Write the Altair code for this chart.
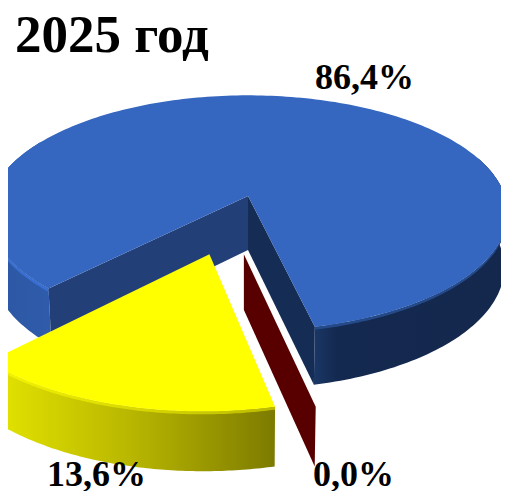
import numpy as np
import altair as alt

title_text = "2025 год"
labels = ["86,4%", "13,6%", "0,0%"]
shares = [86.4, 13.6, 0.0]

CX, R, A, B, C = 240.0, 257.0, 88.0, 188.0, -0.145
D0, D1 = 54.0, 4.0
START = 12.9
STRETCH = 1.163
Y_OFF = (-0.14, 0.47)
M_OFF = (-0.015, 0.47)

sweep_y = shares[1] * 3.6 * STRETCH
LEFT_CUT = START - sweep_y


def proj(u, v, d=0.0):
    den = 1 + C * v
    return [CX + R * u / den * (1 - d * 0.00025), (A * v + B) / den + d]


def rim(t0, t1, off=(0, 0), f=0.0, n=90):
    ts = np.radians(np.linspace(t0, t1, n))
    out = []
    for t in ts:
        u, v = off[0] + np.sin(t), off[1] + np.cos(t)
        out.append(proj(u, v, f * (D0 + D1 * v) if f <= 1 else f))
    return out


def poly(pts):
    pts = list(pts) + [pts[0]]
    return alt.Data(values=[{"type": "Feature", "properties": {},
                             "geometry": {"type": "Polygon", "coordinates": [pts]}}])


def hgrad(stops):
    return alt.Gradient(gradient="linear", x1=0, x2=1, y1=0, y2=0,
                        stops=[alt.GradientStop(offset=o, color=c) for o, c in stops])


def shape(pts, fill):
    return alt.Chart(poly(pts)).mark_geoshape(fill=fill, strokeWidth=0, stroke="transparent", opacity=1)


def wall(t0, t1, off, fill, f=1.0):
    return shape(rim(t0, t1, off) + rim(t1, t0, off, f), fill)


def radial(t, off, fill):
    a = proj(off[0], off[1])
    b = proj(off[0], off[1], D0 + D1 * off[1])
    return shape([a, rim(t, t, off, 0, 2)[0], rim(t, t, off, 1.0, 2)[0], b], fill)


layers = [
    wall(-120, LEFT_CUT, (0, 0), hgrad([(0, "#2B56A2"), (1, "#2F5CAB")])),
    wall(START, 110, (0, 0), hgrad([(0, "#1A3766"), (0.12, "#14294F"), (1, "#14284E")])),
    wall(-120, LEFT_CUT, (0, 0), "#3A6FD2", 0.06),
    wall(START, 110, (0, 0), "#254A8A", 0.05),
    radial(LEFT_CUT, (0, 0), "#223F78"),
    radial(START, (0, 0), "#152C55"),
    shape([proj(0, 0)] + rim(START, 360 + LEFT_CUT, (0, 0), 0, 240), "#3566C0"),
    radial(START, M_OFF, "#580000"),
    wall(LEFT_CUT, START, Y_OFF, hgrad([(0, "#E6E600"), (0.5, "#B8B600"), (1, "#7D7B00")])),
    wall(LEFT_CUT, START, Y_OFF, hgrad([(0, "#F6F600"), (0.5, "#DAD900"), (1, "#BDBB00")]), 0.05),
    shape([proj(*Y_OFF)] + rim(LEFT_CUT, START, Y_OFF), "#FFFF00"),
]


def text(value, x, y, size):
    return alt.Chart(alt.Data(values=[{"t": value}])).mark_text(
        font="Liberation Serif", fontWeight="bold", fontSize=size, align="left", baseline="alphabetic", color="#000000"
    ).encode(x=alt.value(x), y=alt.value(y), text="t:N")


layers += [
    text(title_text, 7, 44, 53),
    text(labels[0], 307, 81, 36),
    text(labels[1], 39, 478, 36),
    text(labels[2], 305, 478, 36),
]

chart = alt.layer(*layers).project(type="identity", scale=1, translate=[0, 0]).properties(
    width=493, height=483, padding=0, autosize=alt.AutoSizeParams(type="none")
).configure_view(strokeWidth=0)

chart.save("out.html", embed_options={"renderer": "svg", "actions": False})
